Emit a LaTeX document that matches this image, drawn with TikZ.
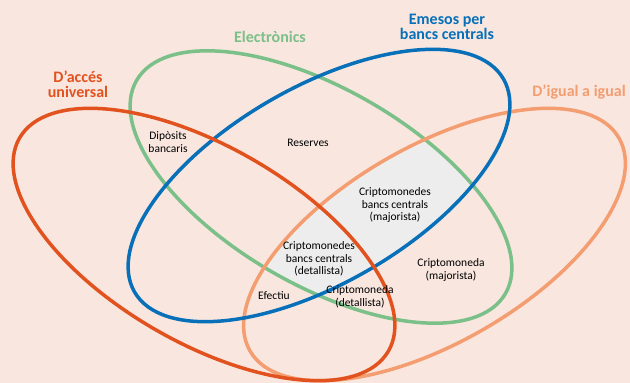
\documentclass[tikz,border=0pt]{standalone}
\usepackage{fontspec}
\setmainfont{Carlito}
\usepackage{tikz}
\definecolor{bg}{RGB}{249,230,223}
\definecolor{accesred}{RGB}{226,82,30}
\definecolor{elecgreen}{RGB}{122,192,136}
\definecolor{bankblue}{RGB}{8,112,184}
\definecolor{peerpeach}{RGB}{243,157,112}
\definecolor{coregray}{RGB}{237,237,237}
\tikzstyle{set}=[line width=3.5pt]
\tikzstyle{title}=[font=\fontsize{16}{15.5}\selectfont\bfseries, align=center, inner sep=0pt]
\tikzstyle{region}=[font=\fontsize{11.5}{12.5}\selectfont, align=center, inner sep=0pt]

\begin{document}
\begin{tikzpicture}[x=1pt, y=-1pt]
                    \fill[bg] (0,0) rectangle (630,383);
                    \useasboundingbox (0,0) rectangle (630,383);
                    \coordinate (universal) at (204, 244.5);
                    \coordinate (electronic) at (321, 187);
                    \coordinate (central) at (319, 185.5);
                    \coordinate (peer) at (434.5, 244.5);
                    % shared part of electronic, central and peer
                    \begin{scope}
                        \clip[rotate around={-30:(electronic)}] (electronic) ellipse (213 and 98);
                        \clip[rotate around={30:(central)}] (central) ellipse (213 and 98);
                        \fill[coregray, rotate around={30:(peer)}] (peer) ellipse (213 and 98);
                    \end{scope}
                    \draw[set, elecgreen, rotate around={-30:(electronic)}] (electronic) ellipse (213 and 98);
                    \draw[set, peerpeach, rotate around={30:(peer)}] (peer) ellipse (213 and 98);
                    \draw[set, bankblue, rotate around={30:(central)}] (central) ellipse (213 and 98);
                    \draw[set, accesred, rotate around={-30:(universal)}] (universal) ellipse (213 and 98);
                    \node[title, text=accesred] (tuniversal) at (78, 84) {D’accés\\universal};
                    \node[title, text=elecgreen] (telectronic) at (270, 37) {Electrònics};
                    \node[title, text=bankblue] (tcentral) at (447, 27) {Emesos per\\bancs centrals};
                    \node[title, text=peerpeach] (tpeer) at (579, 92) {D’igual a igual};
                    \node[region] (deposits) at (168, 142) {Dipòsits\\bancaris};
                    \node[region] (reserves) at (308, 143) {Reserves};
                    \node[region] (cbwholesale) at (395, 205) {Criptomonedes\\bancs centrals\\(majorista)};
                    \node[region] (cbretail) at (319, 259) {Criptomonedes\\bancs centrals\\(detallista)};
                    \node[region] (cash) at (274, 296) {Efectiu};
                    \node[region] (cryptoretail) at (360, 297) {Criptomoneda\\(detallista)};
                    \node[region] (cryptowholesale) at (451, 270) {Criptomoneda\\(majorista)};
                \end{tikzpicture}
\end{document}
